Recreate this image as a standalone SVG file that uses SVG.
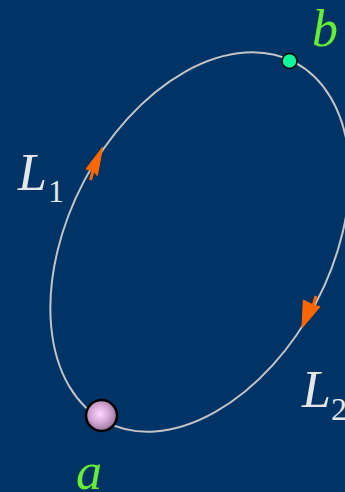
<svg xmlns="http://www.w3.org/2000/svg" width="345" height="492" viewBox="0 0 345 492">
<style>
.lbl{font-family:"Liberation Serif","Times New Roman",serif;font-style:italic;font-size:52px;}
.sub{font-style:normal;font-size:32px;}
.w{fill:#e6e6e6;}
.g{fill:#66ee33;}
.arr{fill:#ff6600;stroke:#ff6600;stroke-width:1;stroke-linejoin:miter;}
.stem{stroke:#ff6600;stroke-width:3;}
</style>
<defs>
<radialGradient id="ball" cx="0.45" cy="0.45" r="0.6">
<stop offset="0" stop-color="#ffd6ff"/>
<stop offset="0.5" stop-color="#d4a6d4"/>
<stop offset="1" stop-color="#8a6a8a"/>
</radialGradient>
</defs>
<rect width="345" height="492" fill="#003366"/>
<g id="connectors">
<ellipse cx="200" cy="242" rx="203" ry="131" transform="rotate(-62.2 200 242)" fill="none" stroke="#c4c4c4" stroke-width="2"/>
<g id="arrow1">
<line class="stem" x1="93" y1="171" x2="90.5" y2="180"/>
<polygon class="arr" points="102.7,147 86,169 93.3,171 97.3,175.7"/>
</g>
<g id="arrow2">
<line class="stem" x1="313.3" y1="305" x2="316" y2="296"/>
<polygon class="arr" points="302,328 303.3,300 313.3,305 320,306.7"/>
</g>
</g>
<g id="node-b">
<circle cx="289.5" cy="61" r="7.5" fill="#11f59a" stroke="#000" stroke-width="1.5"/>
<text class="lbl g" x="312" y="46">b</text>
</g>
<g id="node-a">
<circle cx="101.5" cy="415.5" r="15.5" fill="url(#ball)" stroke="#000" stroke-width="2.5"/>
<text class="lbl g" x="76" y="489">a</text>
</g>
<g id="label-L1">
<text class="lbl w" x="18" y="190">L<tspan class="sub" x="48" y="202">1</tspan></text>
</g>
<g id="label-L2">
<text class="lbl w" x="302" y="407">L<tspan class="sub" x="331" y="420">2</tspan></text>
</g>
</svg>
